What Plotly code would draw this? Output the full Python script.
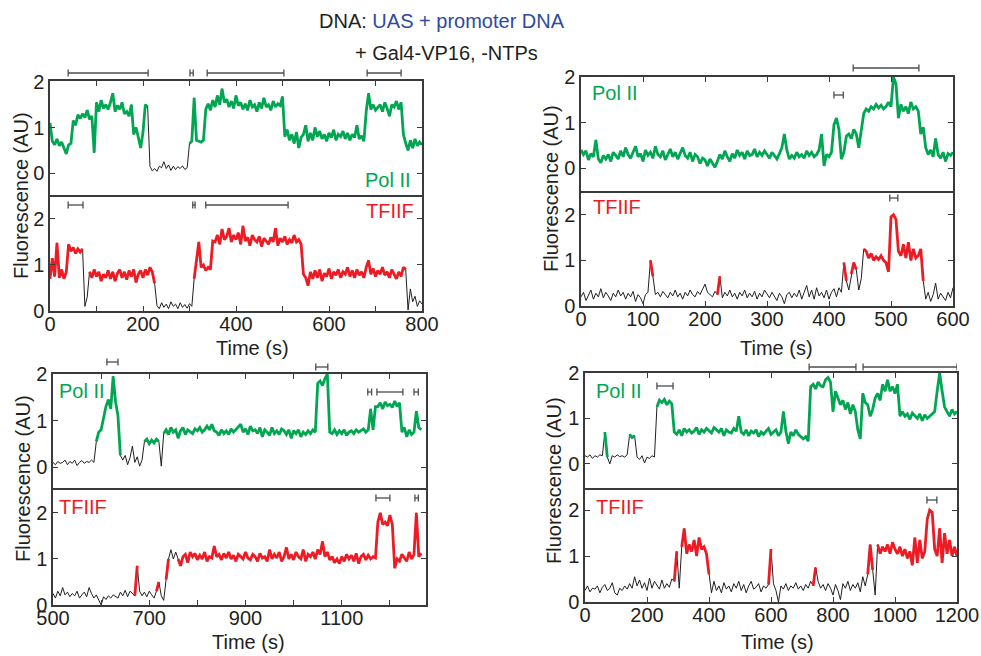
import numpy as np
import plotly.graph_objects as go

W, H = 981, 656
GREEN = "#00a651"
RED = "#ed1c24"
INK = "#231f20"
AXC = "#3a3a3c"
BLUE = "#2d4aa0"
BARC = "#4d4d4f"
FONT = "Liberation Sans, Arial, sans-serif"

# ---------------- data ----------------
# Panel A: 0..800 s, step 5 s
A_t0, A_dt = 0, 5
A_polII = [
    1.10,0.70,0.62,0.75,0.60,0.68,0.55,0.42,0.62,0.65,
    1.15,1.05,1.28,1.20,1.30,1.22,1.38,1.18,1.25,0.45,
    1.55,1.35,1.60,1.42,1.50,1.40,1.55,1.75,1.35,1.48,
    1.40,1.55,1.30,1.35,1.25,1.50,0.85,1.00,0.78,0.55,
    0.90,1.50,1.45,0.15,0.05,0.10,0.04,0.15,0.12,0.25,
    0.10,0.18,0.06,0.15,0.08,0.14,0.10,0.16,0.08,0.12,
    0.65,0.70,1.65,0.72,0.70,0.68,0.72,1.40,1.52,1.38,
    1.60,1.45,1.70,1.50,1.85,1.55,1.62,1.45,1.58,1.42,
    1.70,1.48,1.55,1.40,1.52,1.38,1.60,1.45,1.50,1.35,
    1.55,1.42,1.65,1.45,1.50,1.38,1.58,1.45,1.52,1.48,
    1.68,0.80,0.95,0.72,0.85,0.65,0.90,0.55,0.78,0.85,
    1.05,0.70,0.88,0.72,1.00,0.80,0.92,0.75,0.85,0.70,
    0.88,0.78,0.95,0.72,0.85,0.80,0.92,0.75,0.88,0.72,
    0.85,0.78,1.05,0.75,0.82,0.70,1.35,1.75,1.40,1.50,
    1.38,1.45,1.50,1.35,1.55,1.42,1.25,1.50,1.45,1.58,
    1.40,1.55,0.85,0.65,0.50,0.72,0.55,0.75,0.60,0.68,
    0.62]
A_polII_bound = [(0, 210), (300, 800)]
A_tfiif = [
    0.70,1.15,0.75,1.48,0.72,0.90,0.70,0.85,1.45,1.30,
    1.38,1.25,1.35,1.28,1.35,0.10,0.30,0.85,0.72,0.90,
    0.75,0.85,0.65,0.80,0.72,0.88,0.70,0.85,0.65,0.82,
    0.90,0.72,0.85,0.68,0.88,0.75,0.90,0.62,0.80,0.88,
    0.72,0.90,0.78,0.95,0.85,0.60,0.12,0.05,0.18,0.08,
    0.15,0.05,0.20,0.10,0.15,0.05,0.18,0.08,0.14,0.06,
    0.16,0.10,0.70,1.15,1.50,0.95,1.00,0.88,0.95,0.90,
    1.52,1.50,1.65,1.45,1.78,1.55,1.62,1.80,1.50,1.65,
    1.55,1.70,1.45,1.85,1.52,1.60,1.42,1.65,1.55,1.50,
    1.62,1.40,1.58,1.52,1.45,1.60,1.50,1.80,1.42,1.58,
    1.50,1.62,1.45,1.55,1.48,1.65,1.50,1.55,1.45,0.80,
    0.72,0.55,0.85,0.70,0.88,0.72,0.90,0.65,0.82,0.75,
    0.92,0.70,0.85,0.78,0.90,0.72,0.85,0.80,0.95,0.75,
    0.88,0.72,0.90,0.78,0.85,0.72,0.95,1.10,0.80,0.92,
    0.75,0.88,0.80,0.95,0.78,0.85,0.72,0.90,0.80,0.70,
    0.85,0.75,0.95,0.90,0.02,0.48,0.20,0.32,0.10,0.22,
    0.15]
A_tfiif_bound = [(0, 70), (85, 225), (310, 765)]

# Panel B: 0..600 s, step 4 s
B_t0, B_dt = 0, 4
B_polII = [
    0.40,0.30,0.38,0.18,0.32,0.25,0.62,0.20,0.12,0.28,
    0.20,0.30,0.15,0.35,0.28,0.20,0.38,0.25,0.45,0.30,
    0.22,0.35,0.48,0.25,0.32,0.15,0.40,0.28,0.35,0.22,
    0.48,0.30,0.25,0.38,0.18,0.30,0.42,0.25,0.35,0.20,
    0.32,0.45,0.28,0.22,0.35,0.15,0.30,0.25,0.10,0.22,
    0.18,0.05,0.20,0.10,0.02,0.15,0.30,0.20,0.38,0.25,
    0.15,0.32,0.22,0.40,0.28,0.35,0.20,0.38,0.28,0.30,
    0.42,0.25,0.35,0.28,0.38,0.30,0.22,0.35,0.28,0.20,
    0.32,0.45,0.75,0.40,0.20,0.28,0.22,0.35,0.25,0.30,
    0.22,0.38,0.28,0.35,0.25,0.30,0.40,0.75,0.05,0.30,
    0.25,0.35,0.95,1.10,0.85,0.20,0.35,0.70,0.75,0.65,
    0.85,0.75,0.45,0.80,1.20,1.30,1.25,1.35,1.30,1.40,
    1.32,1.38,1.30,1.35,1.45,1.35,2.00,1.85,1.10,1.40,
    1.25,1.35,1.20,1.45,1.30,1.35,1.25,0.75,0.90,0.45,
    0.30,0.40,0.25,0.65,0.30,0.22,0.35,0.15,0.32,0.28,
    0.35]
B_polII_bound = [(0, 600)]
B_tfiif = [
    0.20,0.30,0.12,0.25,0.35,0.15,0.28,0.20,0.38,0.18,
    0.30,0.22,0.12,0.28,0.20,0.35,0.22,0.30,0.15,0.28,
    0.20,0.32,0.10,0.25,0.18,0.05,0.25,0.30,1.00,0.65,
    0.25,0.30,0.20,0.32,0.25,0.18,0.30,0.22,0.35,0.20,
    0.28,0.15,0.30,0.22,0.35,0.25,0.20,0.32,0.25,0.38,
    0.48,0.30,0.25,0.20,0.32,0.25,0.65,0.18,0.30,0.22,
    0.35,0.20,0.28,0.15,0.30,0.22,0.35,0.18,0.28,0.20,
    0.32,0.15,0.28,0.20,0.35,0.25,0.18,0.30,0.22,0.12,
    0.28,0.20,0.05,0.25,0.30,0.18,0.28,0.20,0.35,0.15,
    0.30,0.45,0.20,0.35,0.15,0.40,0.22,0.30,0.18,0.35,
    0.15,0.30,0.38,0.20,0.40,0.30,0.95,0.55,0.35,0.70,
    0.95,0.80,0.35,0.60,1.25,1.20,1.05,1.15,1.00,1.08,
    1.02,1.10,1.00,0.95,0.75,1.95,2.00,1.90,1.20,1.10,
    1.35,1.05,1.40,1.00,1.25,1.05,1.10,1.25,0.55,0.15,
    0.30,0.10,0.25,0.50,0.15,0.28,0.20,0.12,0.30,0.18,
    0.40]
B_tfiif_bound = [(112, 116), (220, 224), (424, 428), (436, 444), (456, 552)]

# Panel C: 500..1265 s, step 5 s
C_t0, C_dt = 500, 5
C_polII = [
    0.10,0.05,0.12,0.08,0.10,0.15,0.05,0.12,0.08,0.15,
    0.03,0.10,0.14,0.08,0.12,0.10,0.15,0.10,0.55,0.75,
    0.80,1.05,1.30,1.45,1.25,1.95,1.40,1.10,0.25,0.15,
    0.25,0.05,0.20,0.45,0.10,0.22,0.02,0.15,0.55,0.60,
    0.50,0.58,0.52,0.60,0.55,0.02,0.72,0.80,0.70,0.85,
    0.75,0.80,0.62,0.78,0.85,0.70,0.80,0.75,0.72,0.82,
    0.78,0.85,0.75,0.80,0.88,0.80,0.92,0.78,0.75,0.68,
    0.80,0.72,0.78,0.70,0.82,0.75,0.80,0.85,0.92,0.75,
    0.82,0.70,0.88,0.78,0.80,0.72,0.85,0.65,0.80,0.75,
    0.68,0.85,0.72,0.78,0.70,0.82,0.78,0.70,0.80,0.62,
    0.78,0.72,0.80,0.65,0.75,0.70,0.78,0.72,0.80,0.75,
    1.80,1.85,1.75,1.90,2.00,0.75,0.72,0.80,0.70,0.78,
    0.72,0.80,0.68,0.75,0.78,0.72,0.80,0.75,0.78,0.82,
    0.75,0.80,1.25,0.80,1.30,1.30,1.38,1.25,1.40,1.32,
    1.35,1.28,1.42,1.30,1.38,0.75,0.85,0.65,0.80,0.70,
    0.75,1.20,0.85,0.80]
C_polII_bound = [(590, 640), (690, 720), (730, 1265)]
C_tfiif = [
    0.25,0.15,0.30,0.20,0.38,0.22,0.28,0.18,0.25,0.20,
    0.30,0.15,0.22,0.28,0.18,0.38,0.25,0.15,0.22,0.10,
    0.00,0.18,0.12,0.20,0.15,0.22,0.18,0.15,0.28,0.20,
    0.32,0.18,0.30,0.25,0.20,0.85,0.30,0.20,0.28,0.18,
    0.30,0.22,0.15,0.30,0.50,0.20,0.10,0.55,1.00,1.20,
    1.00,1.15,1.00,0.85,1.05,1.10,0.92,1.15,1.05,1.12,
    0.98,1.08,1.00,1.15,0.95,1.05,1.02,1.28,1.05,1.10,
    0.98,1.12,1.02,1.15,1.00,1.08,0.95,1.10,1.05,1.00,
    1.15,1.02,0.98,1.10,1.05,0.95,1.12,1.02,1.05,0.95,
    1.20,1.00,1.10,1.02,1.15,0.95,1.05,1.25,1.00,1.10,
    0.98,1.15,1.05,1.00,1.20,0.95,1.10,1.05,1.15,1.00,
    1.20,1.10,1.38,1.05,1.15,0.98,1.05,0.92,1.00,0.90,
    1.05,0.95,1.10,1.00,1.08,0.95,1.12,0.90,1.05,1.10,
    0.98,1.08,1.00,1.05,1.02,1.80,2.00,1.75,1.80,1.72,
    1.95,1.75,0.80,1.00,0.95,1.10,1.02,0.95,1.15,1.00,
    1.10,2.00,1.05,1.12]
C_tfiif_bound = [(670, 675), (715, 720), (735, 740), (760, 1265)]

# Panel D: 0..1200 s, step 8 s
D_t0, D_dt = 0, 8
D_polII = [
    0.18,0.15,0.20,0.12,0.18,0.15,0.20,0.18,0.70,0.15,
    0.00,0.18,0.15,0.20,0.16,0.18,0.15,0.20,0.65,0.58,
    0.62,0.15,0.10,0.18,0.02,0.15,0.12,0.18,0.15,1.25,
    1.40,1.35,1.42,1.30,1.38,1.32,0.70,0.65,0.75,0.62,
    0.78,0.70,0.75,0.68,0.72,0.80,0.65,0.75,0.70,0.78,
    0.72,0.68,0.80,0.75,0.70,0.78,0.62,0.75,0.70,0.68,
    0.78,0.72,1.05,0.70,0.65,0.75,0.62,0.72,0.68,0.75,
    0.60,0.70,0.65,0.72,0.78,0.65,0.70,0.75,0.62,0.70,
    1.15,0.72,0.45,0.70,0.62,0.75,0.65,0.60,0.55,0.60,
    0.50,1.70,1.75,1.65,1.80,1.72,1.70,1.85,1.90,1.80,
    1.15,1.60,1.45,1.30,1.40,1.20,1.35,1.10,1.30,1.15,
    0.75,0.55,1.55,1.35,1.30,1.05,1.20,1.45,1.55,1.40,
    1.75,1.60,1.85,1.60,1.70,1.55,1.75,1.05,1.15,1.05,
    1.10,0.98,1.12,1.05,1.00,1.10,0.95,1.08,1.00,1.05,
    1.10,1.15,1.60,2.00,1.60,1.25,1.15,1.05,1.20,1.10,
    1.15]
D_polII_bound = [(64, 72), (144, 160), (232, 1200)]
D_tfiif = [
    0.25,0.35,0.22,0.30,0.28,0.35,0.20,0.32,0.38,0.25,
    0.30,0.42,0.20,0.15,0.30,0.25,0.35,0.28,0.40,0.30,
    0.55,0.35,0.48,0.30,0.42,0.25,0.52,0.30,0.45,0.35,
    0.28,0.48,0.30,0.40,0.32,0.50,0.45,1.10,0.30,1.20,
    1.60,1.05,1.25,1.10,1.35,1.00,1.40,1.15,1.20,1.05,
    0.60,0.20,0.45,0.25,0.35,0.20,0.42,0.28,0.35,0.22,
    0.40,0.30,0.45,0.25,0.38,0.20,0.35,0.45,0.28,0.32,
    0.40,0.22,0.35,0.30,0.38,1.15,0.40,0.25,0.00,0.35,
    0.28,0.40,0.25,0.35,0.30,0.42,0.28,0.35,0.25,0.38,
    0.30,0.45,0.35,0.75,0.45,0.30,0.38,0.25,0.40,0.30,
    0.15,0.38,0.25,0.05,0.40,0.30,0.45,0.25,0.38,0.30,
    0.42,0.22,0.55,0.35,0.60,1.25,0.70,0.15,1.25,1.05,
    1.20,1.10,1.25,1.05,1.30,1.15,1.05,1.20,1.00,1.15,
    0.95,1.10,0.80,1.40,0.85,1.35,0.95,1.10,1.80,2.00,
    1.95,1.15,1.00,1.60,0.85,1.50,1.05,1.35,1.00,1.20,
    1.00]
D_tfiif_bound = [(288, 296), (312, 400), (592, 600), (736, 744), (912, 928), (944, 1200)]

# dwell-time bars (start, end) in seconds
A_polII_dwell = [(39, 211), (301, 308), (338, 503), (682, 755)]
A_tfiif_dwell = [(39, 71), (307, 312), (335, 512)]
B_polII_dwell_top = [(439, 545)]
B_polII_dwell_in = [(408, 423)]
B_tfiif_dwell = [(498, 511)]
C_polII_dwell_a = [(612, 635)]
C_polII_dwell_b = [(1046, 1071)]
C_polII_dwell_in = [(1154, 1162), (1173, 1227), (1250, 1259)]
C_tfiif_dwell = [(1171, 1200), (1252, 1259)]
D_polII_dwell_top = [(723, 874), (897, 1200)]
D_polII_dwell_in = [(232, 284)]
D_tfiif_dwell = [(1103, 1135)]

# ---------------- layout helpers ----------------
def xd(l, r):
    return [l / W, r / W]

def yd(top, bot):
    return [1 - bot / H, 1 - top / H]

def py(p):
    return 1 - p / H

panels = [
    dict(x=(50, 422), pol=(81, 195), tf=(195, 311), xr=(0, 800), polyr=(-0.48, 2.02), tfyr=(0, 2.52),
         tick=100, lab=200, t0=A_t0, dt=A_dt, p=A_polII, pb=A_polII_bound, f=A_tfiif, fb=A_tfiif_bound),
    dict(x=(581, 953), pol=(77, 191), tf=(191, 306), xr=(0, 600), polyr=(-0.5, 2.0), tfyr=(0, 2.52),
         tick=100, lab=100, t0=B_t0, dt=B_dt, p=B_polII, pb=B_polII_bound, f=B_tfiif, fb=B_tfiif_bound),
    dict(x=(53, 426), pol=(374, 488), tf=(488, 605), xr=(500, 1275), polyr=(-0.45, 2.0), tfyr=(0, 2.54),
         tick=100, lab=200, t0=C_t0, dt=C_dt, p=C_polII, pb=C_polII_bound, f=C_tfiif, fb=C_tfiif_bound),
    dict(x=(585, 957), pol=(373, 488), tf=(488, 602), xr=(0, 1200), polyr=(-0.53, 2.0), tfyr=(0, 2.48),
         tick=200, lab=200, t0=D_t0, dt=D_dt, p=D_polII, pb=D_polII_bound, f=D_tfiif, fb=D_tfiif_bound),
]

def masked(t, v, bounds):
    return [val if any(a <= ti <= b for a, b in bounds) else None for ti, val in zip(t, v)]

fig = go.Figure()
layout = dict(width=W, height=H, margin=dict(l=0, r=0, t=0, b=0, autoexpand=False), plot_bgcolor="white",
              paper_bgcolor="white", showlegend=False, font=dict(family=FONT, size=20, color=INK))
shapes = []
annotations = []

def ax_id(n):
    return ("x" if n == 1 else f"x{n}"), ("y" if n == 1 else f"y{n}")

for k, P in enumerate(panels):
    npol, ntf = 2 * k + 1, 2 * k + 2
    tvals = list(range(P["xr"][0], P["xr"][1] + 1, P["tick"]))
    ttext = [str(v) if (v - P["xr"][0]) % P["lab"] == 0 else "" for v in tvals]
    for n, dom, yr, vals, bounds, col, is_pol in [
        (npol, P["pol"], P["polyr"], P["p"], P["pb"], GREEN, True),
        (ntf, P["tf"], P["tfyr"], P["f"], P["fb"], RED, False),
    ]:
        xa, ya = ax_id(n)
        t = [P["t0"] + i * P["dt"] for i in range(len(vals))]
        fig.add_trace(go.Scatter(x=t, y=vals, mode="lines", line=dict(color=INK, width=1),
                                 xaxis=xa, yaxis=ya, hoverinfo="skip"))
        fig.add_trace(go.Scatter(x=t, y=masked(t, vals, bounds), mode="lines",
                                 line=dict(color=col, width=2.8), connectgaps=False,
                                 xaxis=xa, yaxis=ya, hoverinfo="skip"))
        xkey = "xaxis" if n == 1 else f"xaxis{n}"
        ykey = "yaxis" if n == 1 else f"yaxis{n}"
        layout[xkey] = dict(domain=xd(*P["x"]), range=list(P["xr"]), anchor=ya, automargin=False,
                            showline=True, linecolor=AXC, linewidth=1.5, mirror=is_pol,
                            ticks="inside", ticklen=5, tickcolor=AXC, tickvals=tvals,
                            ticktext=ttext, showticklabels=not is_pol,
                            side="top" if is_pol else "bottom", ticklabelstandoff=-6,
                            showgrid=False, zeroline=False, tickfont=dict(size=20, color=INK))
        layout[ykey] = dict(domain=yd(*dom), range=list(yr), anchor=xa, automargin=False,
                            showline=True, linecolor=AXC, linewidth=1.5, mirror="ticks",
                            ticks="inside", ticklen=5, tickcolor=AXC, tickvals=[0, 1, 2],
                            showgrid=False, zeroline=False, tickfont=dict(size=20, color=INK))

# dwell bars
bar_groups = [
    (A_polII_dwell, 1, 73), (A_tfiif_dwell, 2, 205),
    (B_polII_dwell_top, 3, 68), (B_polII_dwell_in, 3, 95), (B_tfiif_dwell, 4, 198),
    (C_polII_dwell_a, 5, 362), (C_polII_dwell_b, 5, 367), (C_polII_dwell_in, 5, 392),
    (C_tfiif_dwell, 6, 498),
    (D_polII_dwell_top, 7, 367), (D_polII_dwell_in, 7, 386), (D_tfiif_dwell, 8, 500),
]
for intervals, n, ypix in bar_groups:
    xa, _ = ax_id(n)
    for a, b in intervals:
        lw = dict(color=BARC, width=1.3)
        shapes.append(dict(type="line", xref=xa, yref="paper", x0=a, x1=b, y0=py(ypix), y1=py(ypix), line=lw))
        for xc in (a, b):
            shapes.append(dict(type="line", xref=xa, yref="paper", x0=xc, x1=xc,
                               y0=py(ypix - 3.5), y1=py(ypix + 3.5), line=lw))

def ann(text, x, y, color=INK, angle=0, size=20):
    annotations.append(dict(text=text, x=x / W, y=py(y), xref="paper", yref="paper",
                            xanchor="center", yanchor="middle", showarrow=False, textangle=angle,
                            font=dict(size=size, color=color, family=FONT)))

# titles
ann('DNA: <span style="color:%s">UAS + promoter DNA</span>' % BLUE, 442, 21)
ann("+ Gal4-VP16, -NTPs", 446, 53)

# axis titles
for x, y in [(252, 348), (776, 348), (248, 642), (777, 642)]:
    ann("Time (s)", x, y)
for x, y in [(21, 196), (551, 189), (23, 479), (554, 481)]:
    ann("Fluorescence (AU)", x, y, angle=-90)

# channel labels
ann("Pol II", 388, 180, GREEN)
ann("TFIIF", 390, 211, RED)
ann("Pol II", 615, 93, GREEN)
ann("TFIIF", 617, 207, RED)
ann("Pol II", 82, 391, GREEN)
ann("TFIIF", 83, 507, RED)
ann("Pol II", 619, 391, GREEN)
ann("TFIIF", 620, 507, RED)

layout["shapes"] = shapes
layout["annotations"] = annotations
fig.update_layout(**layout)
fig.write_html("out.html")
